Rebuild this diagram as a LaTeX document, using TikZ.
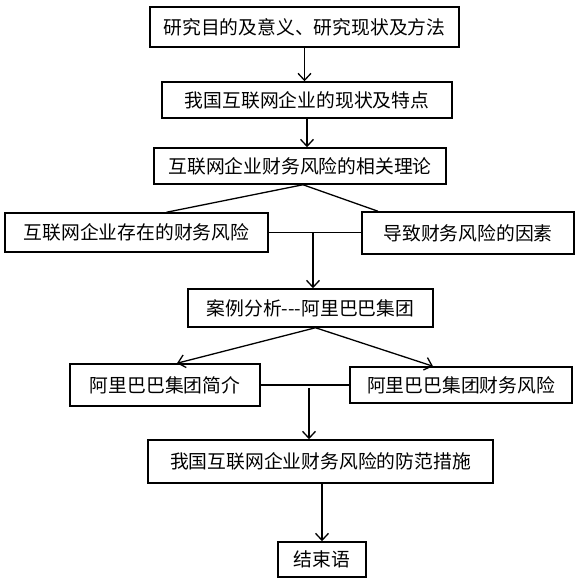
\documentclass[tikz,border=0pt]{standalone}
\usepackage{fontspec}
\setmainfont{Noto Sans CJK SC}
\usepackage{tikz}
\usetikzlibrary{positioning,arrows.meta}
\tikzstyle{bx}=[%
      rectangle, draw=black, line width=1.5pt, fill=white,
      inner sep=0pt, align=center, font=\fontsize{18.8}{22}\selectfont
]
\tikzstyle{arr}=[%
      line width=1.3pt, -{Straight Barb[length=7pt,width=13pt,line width=1.3pt]}
]
\tikzstyle{ln}=[%
      line width=1.3pt
]
\begin{document}
\begin{tikzpicture}[x=1pt,y=-1pt]
    \useasboundingbox (0,0) rectangle (584,583);
    \node[bx, minimum width=309pt, minimum height=40pt] (b1)  at (304.5,27)  {研究目的及意义、研究现状及方法};
    \node[bx, minimum width=290pt, minimum height=36pt] (b2)  at (307,100)   {我国互联网企业的现状及特点};
    \node[bx, minimum width=292pt, minimum height=36pt] (b3)  at (300,166)   {互联网企业财务风险的相关理论};
    \node[bx, minimum width=263pt, minimum height=39pt] (b4)  at (136.5,232.5) {互联网企业存在的财务风险};
    \node[bx, minimum width=212pt, minimum height=42pt] (b5)  at (468,233)   {导致财务风险的因素};
    \node[bx, minimum width=245pt, minimum height=38pt] (b6)  at (310.5,308) {案例分析{-}{-}{-}阿里巴巴集团};
    \node[bx, minimum width=190pt, minimum height=42pt] (b7)  at (165,385)   {阿里巴巴集团简介};
    \node[bx, minimum width=222pt, minimum height=36pt] (b8)  at (461,385)   {阿里巴巴集团财务风险};
    \node[bx, minimum width=345pt, minimum height=43pt] (b9)  at (320.5,461.5) {我国互联网企业财务风险的防范措施};
    \node[bx, minimum width=88pt,  minimum height=35pt] (b10) at (322,559.5) {结束语};
    \coordinate (j1) at (313,232);
    \coordinate (j2) at (309,388);

    \draw[arr] (b1.south) -- (b1.south |- b2.north);
    \draw[arr] (b2.south) -- (b2.south |- b3.north);
    \draw[ln]  ([xshift=3pt]b3.south) -- ([xshift=30pt]b4.north);
    \draw[ln]  ([xshift=3pt]b3.south) -- ([xshift=-90pt]b5.north);
    \draw[ln]  (b4.east) -- (b4.east -| b5.west);
    \draw[arr] (j1) -- (j1 |- b6.north);
    \draw[arr] ([xshift=5pt]b6.south) -- ([xshift=12pt]b7.north);
    \draw[arr] ([xshift=5pt]b6.south) -- ([xshift=-28pt]b8.north);
    \draw[ln]  (b7.east) -- (b7.east -| b8.west);
    \draw[arr] (j2) -- (j2 |- b9.north);
    \draw[arr] (b10.north |- b9.south) -- (b10.north);
\end{tikzpicture}
\end{document}
